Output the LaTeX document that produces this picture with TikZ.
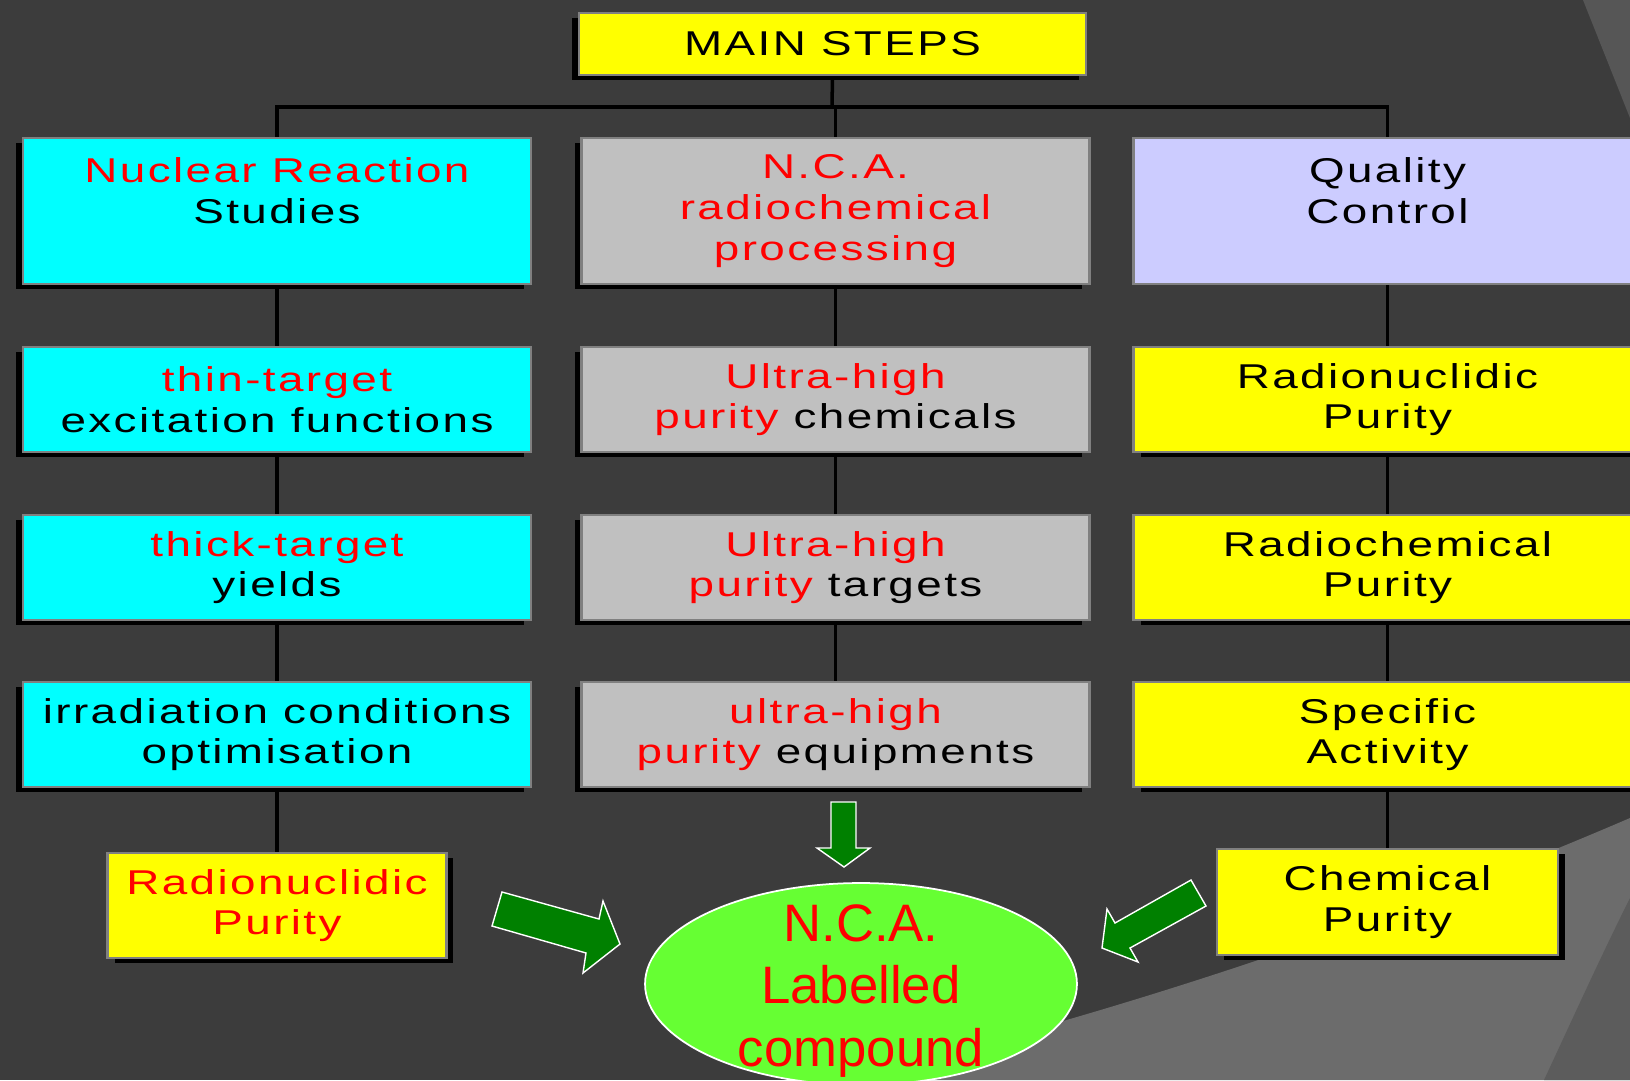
\documentclass[tikz,border=0pt]{standalone}
\usepackage{fontspec}
\setmainfont{Liberation Sans}
\newfontfamily\boxfont{Liberation Sans}[FakeStretch=1.33,LetterSpace=7]
\usetikzlibrary{shapes.geometric,shadows}

\definecolor{slidebg}{RGB}{60,60,60}
\definecolor{slidelight}{RGB}{108,108,108}
\definecolor{slidemid}{RGB}{92,92,92}
\definecolor{slidetop}{RGB}{86,86,86}
\definecolor{boxedge}{RGB}{128,128,128}
\definecolor{nrsfill}{RGB}{0,255,255}
\definecolor{ncafill}{RGB}{192,192,192}
\definecolor{qcfill}{RGB}{204,204,255}
\definecolor{purityfill}{RGB}{255,255,0}
\definecolor{txtred}{RGB}{255,0,0}
\definecolor{compoundgreen}{RGB}{102,255,51}
\definecolor{arrowgreen}{RGB}{0,128,0}

\tikzset{
  stepbox/.style={rectangle, draw=boxedge, line width=1.4pt, inner sep=0pt,
    minimum width=10.16cm, align=center,
    font=\boxfont\fontsize{19.6}{23.1}\selectfont},
  shadowleft/.style={drop shadow={shadow xshift=-0.14cm, shadow yshift=-0.1cm, fill=black, opacity=1}},
  shadowright/.style={drop shadow={shadow xshift=0.14cm, shadow yshift=-0.1cm, fill=black, opacity=1}},
  link/.style={line width=2pt, black},
  blockarrow/.style={fill=arrowgreen, draw=white, line width=0.8pt, line join=miter},
}

\begin{document}
\begin{tikzpicture}[x=0.02cm, y=-0.02cm]
  \clip (0,0) rectangle (1630,1080);
  \fill[slidebg] (0,0) rectangle (1630,1080);
  \fill[slidelight] (840,1080) .. controls (1103,1017) and (1367,931) .. (1630,818) -- (1630,1080) -- cycle;
  \fill[slidemid] (1544,1080) .. controls (1572,1020) and (1600,958) .. (1630,898) -- (1630,1080) -- cycle;
  \fill[slidetop] (1583,0) -- (1630,0) -- (1630,118) -- cycle;

  % title
  \node[stepbox, shadowleft, fill=purityfill, minimum width=10.14cm, minimum height=1.25cm] (main) at (832.5,44) {MAIN STEPS};

  % first column
  \node[stepbox, shadowleft, fill=nrsfill, minimum height=2.92cm] (nrs) at (277,211)
    {\textcolor{txtred}{Nuclear Reaction}\\Studies\\\mbox{}};
  \node[stepbox, shadowleft, fill=nrsfill, minimum height=2.1cm] (thin) at (277,399.5)
    {\textcolor{txtred}{thin-target}\\excitation functions};
  \node[stepbox, shadowleft, fill=nrsfill, minimum height=2.1cm] (thick) at (277,567.5)
    {\textcolor{txtred}{thick-target}\\yields};
  \node[stepbox, shadowleft, fill=nrsfill, minimum height=2.1cm] (irr) at (277,734.5)
    {irradiation conditions\\optimisation};
  \node[stepbox, shadowright, fill=purityfill, minimum width=6.78cm, minimum height=2.1cm] (nuclpur) at (277,905.5)
    {\textcolor{txtred}{Radionuclidic}\\\textcolor{txtred}{Purity}};

  % second column
  \node[stepbox, shadowleft, fill=ncafill, minimum height=2.92cm] (proc) at (835.5,211)
    {\textcolor{txtred}{N.C.A.}\\\textcolor{txtred}{radiochemical}\\\textcolor{txtred}{processing}};
  \node[stepbox, shadowleft, fill=ncafill, minimum height=2.1cm] (chems) at (835.5,399.5)
    {\textcolor{txtred}{Ultra-high}\\\textcolor{txtred}{purity} chemicals};
  \node[stepbox, shadowleft, fill=ncafill, minimum height=2.1cm] (targets) at (835.5,567.5)
    {\textcolor{txtred}{Ultra-high}\\\textcolor{txtred}{purity} targets};
  \node[stepbox, shadowleft, fill=ncafill, minimum height=2.1cm] (equip) at (835.5,734.5)
    {\textcolor{txtred}{ultra-high}\\\textcolor{txtred}{purity} equipments};

  % third column
  \node[stepbox, fill=qcfill, minimum height=2.92cm] (qc) at (1387.5,211)
    {Quality\\Control\\\mbox{}};
  \node[stepbox, shadowright, fill=purityfill, minimum height=2.1cm] (rnpur) at (1387.5,399.5)
    {Radionuclidic\\Purity};
  \node[stepbox, shadowright, fill=purityfill, minimum height=2.1cm] (rcpur) at (1387.5,567.5)
    {Radiochemical\\Purity};
  \node[stepbox, shadowright, fill=purityfill, minimum height=2.1cm] (specact) at (1387.5,734.5)
    {Specific\\Activity};
  \node[stepbox, shadowright, fill=purityfill, minimum width=6.82cm, minimum height=2.12cm] (chempur) at (1387.5,902)
    {Chemical\\Purity};

  \coordinate (hub) at (832,107);
  \draw[link] (main.south) -- (hub);
  \draw[link] (hub) -| (nrs.north);
  \draw[link] (hub) -| (proc.north);
  \draw[link] (hub) -| (qc.north);
  \draw[link] (nrs.south) -- (thin.north);
  \draw[link] (thin.south) -- (thick.north);
  \draw[link] (thick.south) -- (irr.north);
  \draw[link] (irr.south) -- (nuclpur.north);
  \draw[link] (proc.south) -- (chems.north);
  \draw[link] (chems.south) -- (targets.north);
  \draw[link] (targets.south) -- (equip.north);
  \draw[link] (qc.south) -- (rnpur.north);
  \draw[link] (rnpur.south) -- (rcpur.north);
  \draw[link] (rcpur.south) -- (specact.north);
  \draw[link] (specact.south) -- (chempur.north);

  % green arrows
  \draw[blockarrow] (831,802) -- (856,802) -- (856,848) -- (870,848) -- (844,867) -- (817,848) -- (831,848) -- cycle;
  \draw[blockarrow] (502,892) -- (599,919) -- (603,901) -- (620,944) -- (583,973) -- (586,953) -- (492,926) -- cycle;
  \draw[blockarrow] (1191,880) -- (1206,906) -- (1130,948) -- (1138,962) -- (1102,948) -- (1107,909) -- (1115,923) -- cycle;

  % result
  \node[ellipse, fill=compoundgreen, draw=white, line width=1pt, inner sep=0pt,
    minimum width=8.64cm, minimum height=4.04cm] (nca) at (861,984) {};
  \node[text=txtred, align=center, inner sep=0pt,
    font=\fontsize{30}{35.4}\selectfont] (ncalabel) at (861,991) {N.C.A.\\Labelled\\compound};
\end{tikzpicture}
\end{document}
